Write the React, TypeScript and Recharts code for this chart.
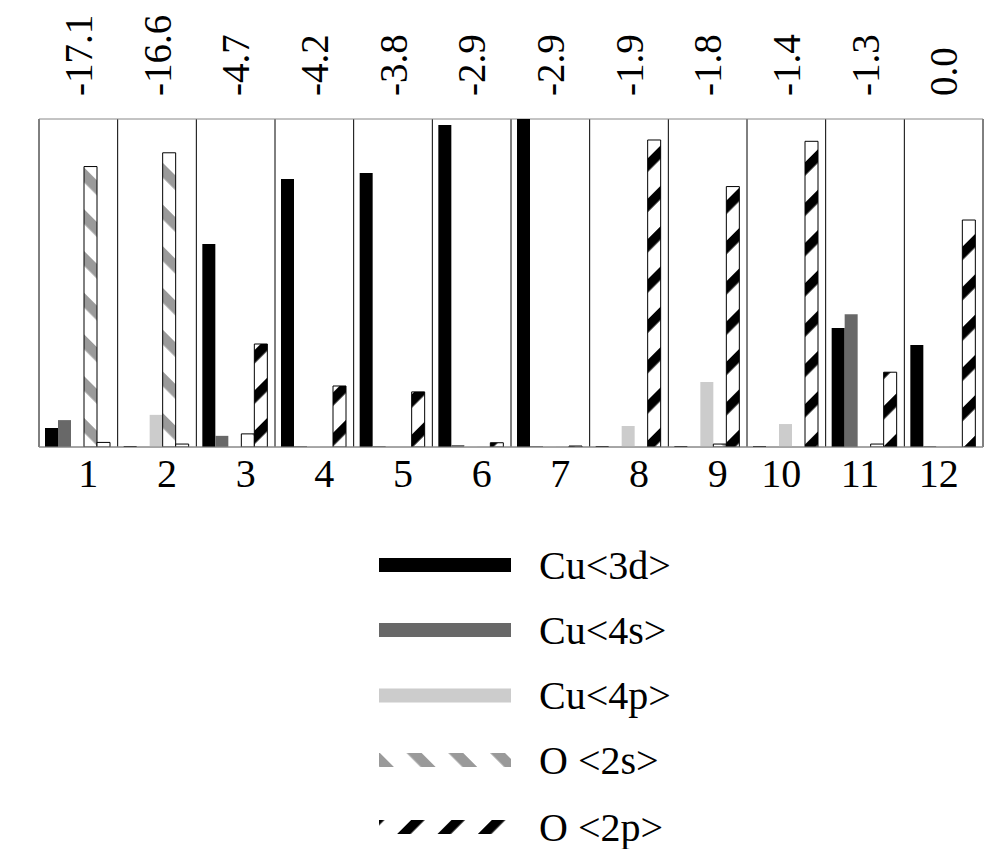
import React from 'react';
import { BarChart, Bar, XAxis, YAxis, CartesianGrid, Legend } from 'recharts';

const categories = ['1', '2', '3', '4', '5', '6', '7', '8', '9', '10', '11', '12'];
const energies = ['-17.1', '-16.6', '-4.7', '-4.2', '-3.8', '-2.9', '-2.9', '-1.9', '-1.8', '-1.4', '-1.3', '0.0'];

const cu3d = [5.8, 0.3, 61.9, 81.7, 83.5, 98.2, 100, 0.3, 0.3, 0.3, 36.3, 31.1];
const cu4s = [8.2, 0, 3.4, 0.3, 0.3, 0.6, 0.3, 0, 0, 0, 40.5, 0.3];
const cu4p = [0, 9.8, 0, 0.3, 0, 0.3, 0.3, 6.4, 19.8, 7.0, 0, 0.3];
const o2s = [85.5, 89.7, 4.0, 0, 0, 0, 0, 0, 0.9, 0, 0.9, 0];
const o2p = [1.4, 0.9, 31.4, 18.6, 16.8, 1.3, 0.3, 93.6, 79.4, 93.2, 22.8, 69.2];

const seriesNames = ['Cu<3d>', 'Cu<4s>', 'Cu<4p>', 'O <2s>', 'O <2p>'];
const seriesKeys = ['cu3d', 'cu4s', 'cu4p', 'o2s', 'o2p'];
const seriesValues = [cu3d, cu4s, cu4p, o2s, o2p];

const data = categories.map((c, i) => {
  const row: Record<string, any> = { cat: c, energy: energies[i] };
  seriesKeys.forEach((k, j) => {
    row[k] = seriesValues[j][i];
  });
  return row;
});

const FONT = '"Liberation Serif", "Times New Roman", Times, serif';

const fills = ['#000000', '#686868', '#cccccc', 'url(#patO2s)', 'url(#patO2p)'];
const legendFills = ['#000000', '#686868', '#cccccc', 'url(#lgO2s)', 'url(#lgO2p)'];
const strokes = ['none', 'none', 'none', '#000', '#000'];

const Patterns = ({ prefix, shiftS = 0, shiftP = 0 }: { prefix: string; shiftS?: number; shiftP?: number }) => (
  <defs>
    <pattern
      id={`${prefix}O2s`}
      patternUnits="userSpaceOnUse"
      width={10}
      height={29.5}
      patternTransform={`translate(${shiftS},0) rotate(45)`}
    >
      <rect x={0} y={0} width={10} height={29.5} fill="#ffffff" />
      <rect x={0} y={0} width={10} height={10.5} fill="#9a9a9a" />
    </pattern>
    <pattern
      id={`${prefix}O2p`}
      patternUnits="userSpaceOnUse"
      width={10}
      height={28.5}
      patternTransform={`translate(${shiftP},0) rotate(-45)`}
    >
      <rect x={0} y={0} width={10} height={28.5} fill="#ffffff" />
      <rect x={0} y={0} width={10} height={9.5} fill="#000000" />
    </pattern>
  </defs>
);

const TopTick = (props: any) => {
  const { x, y, index } = props;
  return (
    <text
      transform={`translate(${x}, ${y - 15}) rotate(-90)`}
      textAnchor="start"
      dy="0.35em"
      fontFamily={FONT}
      fontSize={39}
      fill="#000"
    >
      {energies[index]}
    </text>
  );
};

const BottomTick = (props: any) => {
  const { x, y, payload } = props;
  const label = String(payload.value);
  const dx = label.length === 1 ? 10 : -5;
  return (
    <text x={x + dx} y={y + 32} textAnchor="middle" fontFamily={FONT} fontSize={40} fill="#000">
      {label}
    </text>
  );
};

const rowCenters = [25, 90, 155.5, 220, 287];

const renderLegend = () => (
  <svg width={998} height={309} style={{ display: 'block' }}>
    <Patterns prefix="lg" shiftS={0} shiftP={6} />
    {seriesNames.map((name, i) => (
      <g key={name}>
        <rect x={379} y={rowCenters[i] - 7} width={132} height={14} fill={legendFills[i]} />
        <text x={539} y={rowCenters[i] + 13.5} fontFamily={FONT} fontSize={40} fill="#000">
          {name}
        </text>
      </g>
    ))}
  </svg>
);

export default function App() {
  return (
    <div style={{ position: 'absolute', left: 0, top: 0, width: 998, height: 849, background: '#fff' }}>
      <BarChart
        width={998}
        height={849}
        data={data}
        margin={{ top: 9, right: 15, bottom: 342, left: 39 }}
        barCategoryGap={6}
        barGap={0}
      >
        <Patterns prefix="pat" />
        <CartesianGrid
          xAxisId="bottom"
          horizontal={false}
          stroke="#000"
          verticalCoordinatesGenerator={({ offset }: any) =>
            Array.from({ length: 13 }, (_, i) => offset.left + (i * offset.width) / 12)
          }
        />
        <CartesianGrid
          xAxisId="bottom"
          vertical={false}
          stroke="#888"
          horizontalCoordinatesGenerator={({ offset }: any) => [offset.top, offset.top + offset.height]}
        />
        <XAxis
          xAxisId="top"
          orientation="top"
          dataKey="cat"
          height={110}
          axisLine={false}
          tickLine={false}
          interval={0}
          tick={<TopTick />}
        />
        <XAxis
          xAxisId="bottom"
          dataKey="cat"
          height={60}
          axisLine={{ stroke: '#888' }}
          tickLine={false}
          interval={0}
          tick={<BottomTick />}
        />
        <YAxis hide domain={[0, 100]} allowDataOverflow />
        {seriesKeys.map((k, i) => (
          <Bar
            key={k}
            xAxisId="bottom"
            dataKey={k}
            name={seriesNames[i]}
            fill={fills[i]}
            stroke={strokes[i]}
            strokeWidth={strokes[i] === 'none' ? 0 : 1}
            isAnimationActive={false}
          />
        ))}
        <Legend
          layout="vertical"
          align="center"
          verticalAlign="middle"
          content={renderLegend}
          wrapperStyle={{ top: 540, left: 0, width: 998, height: 309 }}
        />
      </BarChart>
    </div>
  );
}
